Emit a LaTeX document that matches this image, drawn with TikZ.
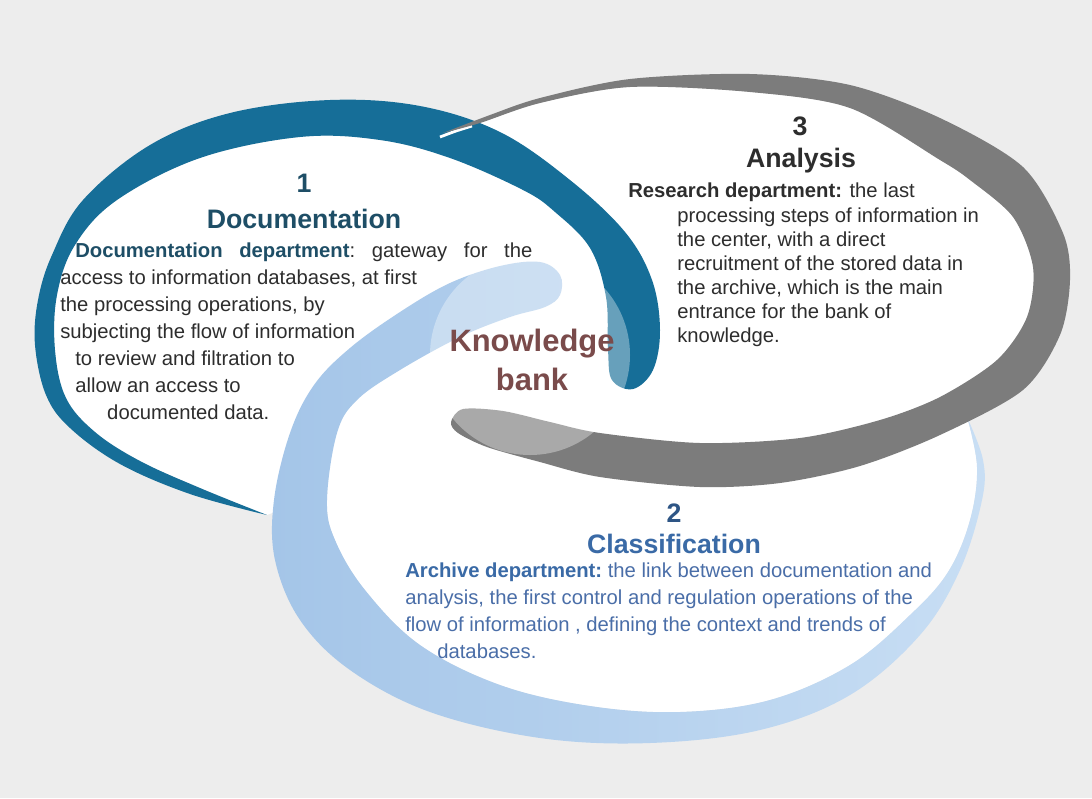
\documentclass[tikz,border=0pt]{standalone}
\usepackage{fontspec}
\setmainfont{Liberation Sans}
\usepackage{xcolor}

\definecolor{bgray}{RGB}{237,237,237}
\definecolor{ringblue}{RGB}{22,110,152}
\definecolor{ringgray}{RGB}{124,124,124}
\definecolor{ringlight}{RGB}{164,197,232}
\definecolor{ringlighter}{RGB}{200,222,244}
\definecolor{docteal}{RGB}{30,78,102}
\definecolor{txtgray}{RGB}{45,45,45}
\definecolor{classblue}{RGB}{58,106,166}
\definecolor{classtxt}{RGB}{74,110,168}
\definecolor{kbank}{RGB}{122,75,75}

\tikzset{
  num/.style={font=\fontsize{19}{22}\selectfont\bfseries, inner sep=0, anchor=base},
  ttl/.style={font=\fontsize{19}{22}\selectfont\bfseries, inner sep=0, anchor=base},
  body/.style={font=\fontsize{14.4}{19.2}\selectfont\frenchspacing, inner sep=0, anchor=north west, align=left},
}

\begin{document}
\begin{tikzpicture}[x=0.025cm, y=-0.025cm]
    \useasboundingbox (0,0) rectangle (1092,798);
    \fill[bgray] (0,0) rectangle (1092,798);

    % white insides of the three rings
    \fill[white] plot[smooth, tension=0.6] coordinates {(267,515) (200,488) (140,461) (95,432)
      (66,398) (55,350) (57,295) (75,245) (117,200) (200,158) (300,137) (380,140) (450,158)
      (523,190) (555,212) (590,248) (606,297) (608,350) (612,380)} -- cycle;
    \fill[white] plot[smooth, tension=0.5] coordinates {(443,133) (480,123) (540,103) (630,87)
      (750,92) (850,108) (940,160) (970,180) (1013,217) (1033,267) (1027,317) (997,360)
      (940,397) (880,420) (800,438) (700,443) (600,433) (550,422) (503,411) (463,409)} -- cycle;
    \fill[white] plot[smooth, tension=0.6] coordinates {(967,417) (977,467) (970,520) (948,572)
      (910,615) (850,665) (770,700) (680,712) (590,706) (500,685) (420,645) (365,590)
      (335,540) (327,500) (337,433) (357,400) (400,370) (460,337) (510,317) (548,307)
      (560,295)} -- cycle;

    % ring 1 (documentation)
    \fill[ringblue] plot[smooth, tension=0.6] coordinates {(267,515) (190,494) (120,464)
      (70,428) (46,395) (35,345) (38,300) (52,255) (83,200) (150,145) (230,113) (330,100)
      (420,106) (500,132) (570,180) (625,232) (652,280) (660,330) (653,370) (633,389)
      (612,380) (608,350) (606,297) (590,248) (555,212) (523,190) (450,158) (380,140)
      (300,137) (200,158) (117,200) (75,245) (57,295) (55,350) (66,398) (95,432) (140,461)
      (200,488) (267,515)} -- cycle;

    % ring 2 (classification)
    \shade[left color=ringlight, right color=ringlighter] plot[smooth, tension=0.6]
      coordinates {(967,417) (983,460) (982,500) (960,570) (920,635) (850,695) (760,730)
      (650,743) (540,738) (430,712) (350,670) (300,620) (275,560) (274,500) (290,433)
      (314,385) (350,348) (400,312) (450,283) (500,266) (540,262) (560,275) (560,295)
      (545,307) (510,317) (460,337) (400,370) (357,400) (337,433) (327,500) (335,540)
      (365,590) (420,645) (500,685) (590,706) (680,712) (770,700) (850,665) (910,615)
      (948,572) (970,520) (977,467) (967,417)} -- cycle;

    % ring 3 (analysis)
    \draw[white, line width=2pt] plot[smooth] coordinates {(440,137) (456,131) (472,126)};
    \fill[ringgray] plot[smooth, tension=0.5] coordinates {(443,133) (490,115) (540,98)
      (630,79) (750,74) (850,85) (940,118) (1023,167) (1063,233) (1070,280) (1060,335)
      (1023,390) (940,435) (860,466) (780,483) (700,487) (600,477) (540,462) (487,447)
      (458,433) (451,422) (463,409) (503,411) (550,422) (600,433) (700,443) (800,438)
      (880,420) (940,397) (997,360) (1027,317) (1033,267) (1013,217) (970,180) (940,160)
      (850,108) (750,92) (630,87) (540,103) (480,123) (443,133)} -- cycle;

    % centre glow
    \fill[white, opacity=0.35] (530,355) circle [radius=100];

    % texts
    \node[num, text=docteal] (num1) at (304,192) {1};
    \node[ttl, text=docteal] (title1) at (304,228) {Documentation};
    \node[body, text=txtgray] (body1) at (60,243) {\hspace*{10.7pt}\makebox[325pt][s]{\textcolor{docteal}{\bfseries Documentation department}: gateway for the}\\
      access to information databases, at first\\
      the processing operations, by\\
      subjecting the flow of information\\
      \hspace*{10.7pt}to review and filtration to\\
      \hspace*{10.7pt}allow an access to\\
      \hspace*{33.4pt}documented data.};

    \node[num, text=txtgray] (num3) at (800,135) {3};
    \node[ttl, text=txtgray] (title3) at (801,167) {Analysis};
    \node[body, text=txtgray, font=\fontsize{14.4}{17.1}\selectfont] (body3) at (628,183) {{\bfseries Research department:} the last\\
      \hspace*{34.9pt}processing steps of information in\\
      \hspace*{34.9pt}the center, with a direct\\
      \hspace*{34.9pt}recruitment of the stored data in\\
      \hspace*{34.9pt}the archive, which is the main\\
      \hspace*{34.9pt}entrance for the bank of\\
      \hspace*{34.9pt}knowledge.};

    \node[num, text=classblue!80!black] (num2) at (674,522) {2};
    \node[ttl, text=classblue] (title2) at (674,553) {Classification};
    \node[body, text=classtxt] (body2) at (405,563) {\textcolor{classblue}{\bfseries Archive department:} the link between documentation and\\
      analysis, the first control and regulation operations of the\\
      flow of information , defining the context and trends of\\
      \hspace*{22.8pt}databases.};

    \node[font=\fontsize{22}{27.7}\selectfont\bfseries, text=kbank, align=center, inner sep=0] (kbank) at (532,360) {Knowledge\\bank};
\end{tikzpicture}
\end{document}
